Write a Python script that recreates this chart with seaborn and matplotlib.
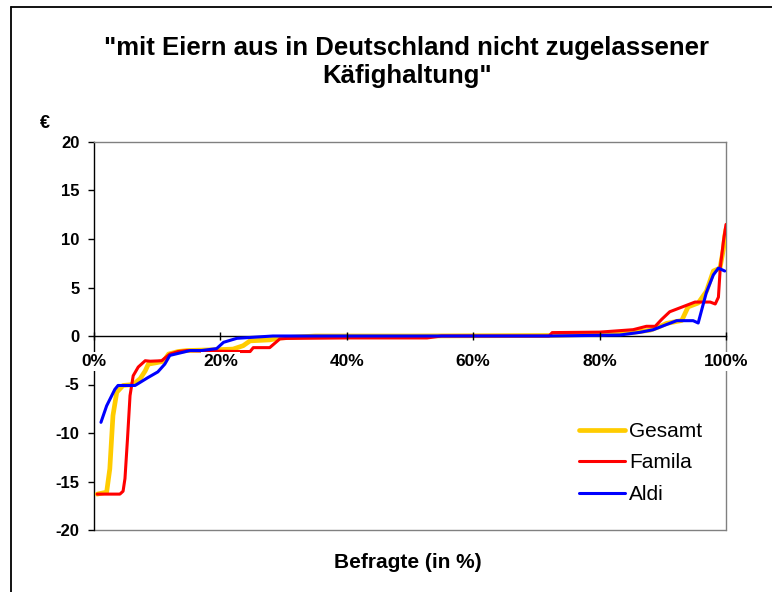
import matplotlib
matplotlib.use("Agg")
import matplotlib.pyplot as plt
from matplotlib.lines import Line2D
import pandas as pd
import seaborn as sns

sns.set_style("white")
plt.rcParams["font.family"] = ["Liberation Sans", "DejaVu Sans"]
plt.rcParams["text.color"] = "black"
plt.rcParams["axes.unicode_minus"] = False

# Sorted answers per group: share of respondents (%) vs. amount (EUR)
series_names = ["Gesamt", "Famila", "Aldi"]

gesamt_x = [0.5, 2.0, 2.5, 3.0, 3.6, 4.6, 6.2, 7.3, 8.1, 8.6, 9.9, 11.0, 11.8,
            13.3, 14.7, 17.3, 20.0, 22.0, 23.6, 24.7, 27.8, 29.4, 35.0, 50.0,
            72.0, 80.0, 85.0, 88.0, 89.6, 90.6, 93.0, 93.5, 94.0, 95.6, 96.9,
            98.0, 99.05, 99.6, 99.8, 100.0]
gesamt_y = [-16.3, -16.1, -13.7, -8.2, -5.8, -5.1, -5.0, -4.4, -3.6, -2.9,
            -2.75, -2.6, -1.86, -1.6, -1.5, -1.45, -1.4, -1.35, -1.0, -0.5,
            -0.4, -0.2, 0.0, 0.0, 0.05, 0.2, 0.35, 0.6, 1.0, 1.3, 1.6, 2.3,
            3.0, 3.4, 4.6, 6.7, 7.0, 9.0, 10.3, 11.0]

famila_x = [0.5, 4.1, 4.6, 4.9, 5.3, 5.7, 6.2, 7.0, 8.1, 8.9, 10.7, 12.0, 13.3,
            14.7, 18.0, 22.8, 24.7, 25.2, 27.8, 29.4, 30.5, 40.0, 52.7, 55.0,
            72.0, 72.5, 80.0, 85.3, 87.4, 88.8, 89.8, 91.1, 92.7, 95.1, 97.5,
            98.3, 98.8, 99.1, 99.6, 100.0]
famila_y = [-16.3, -16.3, -16.0, -14.7, -10.6, -6.15, -4.1, -3.2, -2.55, -2.6,
            -2.55, -1.86, -1.6, -1.5, -1.55, -1.6, -1.6, -1.2, -1.2, -0.3,
            -0.25, -0.2, -0.2, 0.0, 0.0, 0.35, 0.4, 0.65, 1.0, 1.0, 1.7, 2.5,
            2.9, 3.5, 3.5, 3.3, 4.0, 7.1, 9.8, 11.5]

aldi_x = [1.1, 2.0, 3.3, 3.8, 6.5, 8.5, 10.1, 11.2, 12.0, 13.6, 15.2, 17.0,
          19.4, 20.5, 22.6, 28.3, 72.0, 83.2, 86.4, 88.5, 90.1, 92.2, 94.8,
          95.6, 96.2, 96.9, 98.0, 98.8, 99.8]
aldi_y = [-8.9, -7.2, -5.5, -5.1, -5.1, -4.3, -3.7, -2.9, -2.0, -1.75, -1.5,
          -1.5, -1.3, -0.65, -0.24, 0.0, 0.0, 0.1, 0.38, 0.65, 1.06, 1.58,
          1.58, 1.34, 2.8, 4.5, 6.3, 7.0, 6.7]

y_ticks = [-20, -15, -10, -5, 0, 5, 10, 15, 20]
x_ticks = [0, 20, 40, 60, 80, 100]
x_tick_labels = ["0%", "20%", "40%", "60%", "80%", "100%"]

colors = {"Gesamt": "#FFCC00", "Famila": "#FF0000", "Aldi": "#0000FF"}
widths = {"Gesamt": 3.4, "Famila": 2.2, "Aldi": 2.2}

df = pd.concat([
    pd.DataFrame({"Befragte": gesamt_x, "Euro": gesamt_y, "Gruppe": "Gesamt"}),
    pd.DataFrame({"Befragte": famila_x, "Euro": famila_y, "Gruppe": "Famila"}),
    pd.DataFrame({"Befragte": aldi_x, "Euro": aldi_y, "Gruppe": "Aldi"}),
], ignore_index=True)

W, H = 772, 592
fig = plt.figure(figsize=(W / 100, H / 100), dpi=100)
ax = fig.add_axes([94 / W, 62 / H, 632 / W, 388 / H])

for name in series_names:
    sns.lineplot(data=df[df["Gruppe"] == name], x="Befragte", y="Euro",
                 color=colors[name], linewidth=widths[name], sort=False,
                 estimator=None, ax=ax, zorder=3, solid_joinstyle="round",
                 solid_capstyle="round", legend=False)

ax.set_xlim(0, 100)
ax.set_ylim(-20, 20)
ax.set_xticks(x_ticks)
ax.set_xticklabels(x_tick_labels)
ax.set_yticks(y_ticks)
ax.set_xlabel("")
ax.set_ylabel("")

# frame: grey box, black value axis, category axis crossing at zero
for side in ("top", "right"):
    ax.spines[side].set_color("#808080")
    ax.spines[side].set_linewidth(1)
ax.spines["left"].set_color("black")
ax.spines["left"].set_linewidth(1)
ax.spines["bottom"].set_position(("data", 0))
ax.spines["bottom"].set_color("black")
ax.spines["bottom"].set_linewidth(1)
ax.axhline(-20, color="#808080", lw=1, clip_on=False, zorder=2.5)

ax.tick_params(axis="y", direction="out", length=4.5, width=1, pad=6,
               labelsize=12, left=True, colors="black")
ax.tick_params(axis="x", direction="inout", length=6, width=1, pad=10,
               labelsize=12.5, bottom=True, colors="black")
for lbl in ax.get_yticklabels():
    lbl.set_fontweight("bold")
for lbl in ax.get_xticklabels():
    lbl.set_fontweight("bold")
    lbl.set_bbox(dict(facecolor="white", edgecolor="none", pad=1.5))
ax.xaxis.set_zorder(4)

handles = [Line2D([], [], color=colors[n], lw=widths[n]) for n in series_names]
fig.legend(handles, series_names, loc="upper left",
           bbox_to_anchor=(579 / W, 1 - 422 / H), frameon=False,
           fontsize=15, handlelength=2.2, handletextpad=0.2,
           labelspacing=0.6, borderpad=0, borderaxespad=0)

fig.text(407 / W, 1 - 62 / H,
         "\"mit Eiern aus in Deutschland nicht zugelassener\nKäfighaltung\"",
         ha="center", va="center", fontsize=18.5, fontweight="bold",
         linespacing=1.2)
fig.text(408 / W, 1 - 563 / H, "Befragte (in %)", ha="center", va="center",
         fontsize=15, fontweight="bold")
fig.text(45 / W, 1 - 124 / H, "€", ha="center", va="center",
         fontsize=13, fontweight="bold")

# outer chart frame
fig.add_artist(Line2D([11 / W, 11 / W], [0, 1 - 7 / H], color="black",
                      lw=1.3, transform=fig.transFigure))
fig.add_artist(Line2D([11 / W, 1], [1 - 7 / H, 1 - 7 / H], color="black",
                      lw=1.3, transform=fig.transFigure))

fig.savefig("out.png", dpi=100)
